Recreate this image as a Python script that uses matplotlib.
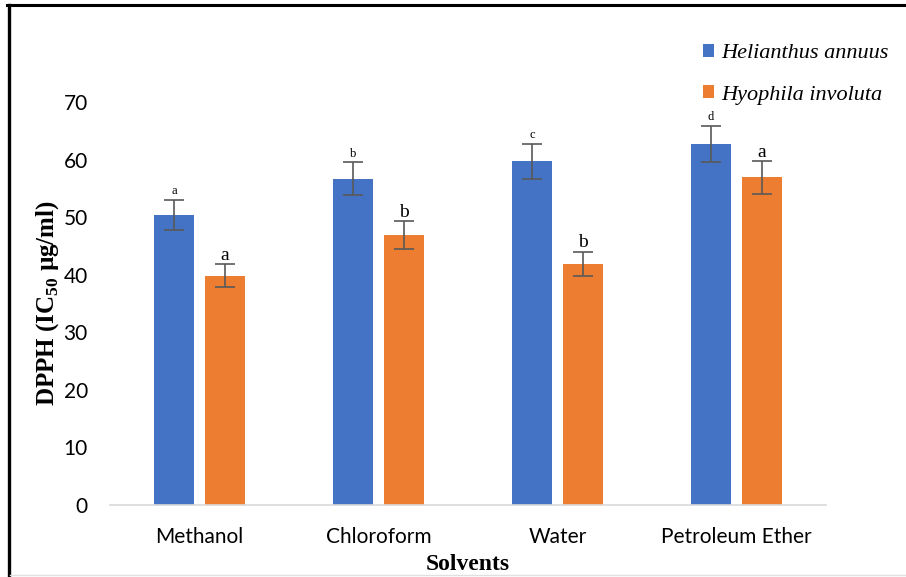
import numpy as np
import matplotlib.pyplot as plt
from matplotlib.lines import Line2D

# DPPH IC50 values (µg/ml) per solvent extract
solvents = ['Methanol', 'Chloroform', 'Water', 'Petroleum Ether']
helianthus = [50.4, 56.7, 59.7, 62.7]
helianthus_err = [2.55, 2.8, 3.05, 3.1]
hyophila = [39.8, 46.9, 41.9, 56.9]
hyophila_err = [2.0, 2.35, 2.05, 2.8]
helianthus_letters = ['a', 'b', 'c', 'd']
hyophila_letters = ['a', 'b', 'b', 'a']

blue = '#4472C4'
orange = '#ED7D31'
err_color = '#595959'

plt.rcParams['mathtext.fontset'] = 'custom'
plt.rcParams['mathtext.bf'] = 'Liberation Serif:bold'
plt.rcParams['mathtext.rm'] = 'Liberation Serif'

fig = plt.figure(figsize=(9.06, 5.77), dpi=100)
ax = fig.add_axes([110 / 906, 1 - 505 / 577, 716 / 906, 403 / 577])

x = np.arange(len(solvents))
w = 0.224
off = 0.143

err_kw = dict(ecolor=err_color, capsize=7, error_kw=dict(elinewidth=1.2, capthick=1.2))
ax.bar(x - off, helianthus, w, color=blue, yerr=helianthus_err, label='Helianthus annuus', **err_kw)
ax.bar(x + off, hyophila, w, color=orange, yerr=hyophila_err, label='Hyophila involuta', **err_kw)

# significance letters above the error bars
for i in range(len(solvents)):
    ax.text(x[i] - off, helianthus[i] + helianthus_err[i] + 0.5, helianthus_letters[i],
            ha='center', va='bottom', fontsize=9, family='Liberation Serif')
    ax.text(x[i] + off, hyophila[i] + hyophila_err[i] + 0.1, hyophila_letters[i],
            ha='center', va='bottom', fontsize=14, family='Liberation Serif')

ax.set_xlim(-0.5, len(solvents) - 0.5)
ax.set_ylim(0, 70)
ax.set_yticks(range(0, 71, 10))
ax.set_xticks(x)
ax.set_xticklabels(solvents)
for s in ['top', 'right', 'left']:
    ax.spines[s].set_visible(False)
ax.spines['bottom'].set_color('#D9D9D9')
ax.spines['bottom'].set_linewidth(1.2)
ax.tick_params(axis='both', length=0, labelsize=15, labelcolor='#000000')
ax.tick_params(axis='y', pad=16)
ax.tick_params(axis='x', pad=16)
for lab in ax.get_xticklabels() + ax.get_yticklabels():
    lab.set_family('Lato')

ax.set_xlabel('Solvents', family='Liberation Serif', fontweight='bold', fontsize=17, labelpad=5)
ax.set_ylabel(r'DPPH (IC$_{\mathbf{50}}$ µg/ml)', family='Liberation Serif', fontweight='bold',
              fontsize=18, labelpad=2)

leg = fig.legend(loc='upper left', bbox_to_anchor=(683 / 906, 1 - 24 / 577), frameon=False,
                 prop=dict(family='Liberation Serif', style='italic', size=16),
                 handlelength=0.5, handleheight=0.5, handletextpad=0.3, labelspacing=1.0)

# outer frame
fig.add_artist(Line2D([7 / 906, 1], [1 - 5 / 577, 1 - 5 / 577], color='black', lw=2.2))
fig.add_artist(Line2D([8.5 / 906, 8.5 / 906], [0, 1 - 5 / 577], color='black', lw=2.4))
fig.add_artist(Line2D([10 / 906, 1], [1 - 575 / 577, 1 - 575 / 577], color='#E0E0E0', lw=1))

fig.savefig('out.png', dpi=100)
